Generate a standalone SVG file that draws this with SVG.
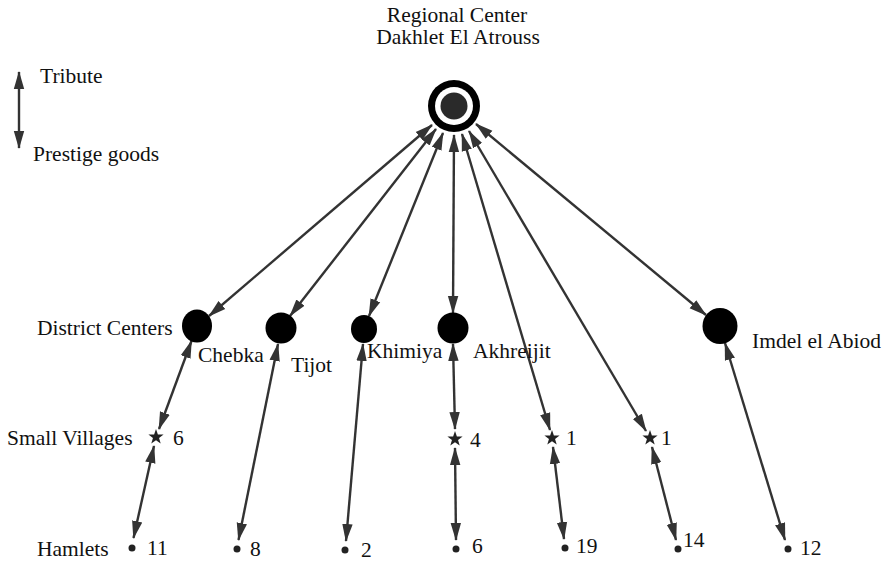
<svg xmlns="http://www.w3.org/2000/svg" width="889" height="561" viewBox="0 0 889 561">
<style>
text{font-family:"Liberation Serif","Times New Roman",serif;font-size:21.5px;fill:#111}
.c{stroke:#333;stroke-width:2.4;fill:none;marker-start:url(#ah);marker-end:url(#ah)}
.dc{fill:#000}
.dot{fill:#222}
.star{fill:#222}
</style>
<defs>
<marker id="ah" viewBox="0 -6 18 12" markerWidth="18" markerHeight="12" refX="17" refY="0" orient="auto-start-reverse" markerUnits="userSpaceOnUse">
<path d="M0,-5.2 L18,0 L0,5.2 Z" fill="#333"/>
</marker>
<path id="st" d="M0,-8 L1.88,-2.59 L7.61,-2.47 L3.04,1 L4.7,6.47 L0,3.2 L-4.7,6.47 L-3.04,1 L-7.61,-2.47 L-1.88,-2.59 Z"/>
</defs>
<rect width="889" height="561" fill="#fff"/>

<g id="legend">
<line class="c" x1="19" y1="72" x2="19" y2="148"/>
<text x="40" y="83">Tribute</text>
<text x="33" y="161">Prestige goods</text>
</g>

<g id="level-labels">
<text x="37" y="335">District Centers</text>
<text x="7" y="445">Small Villages</text>
<text x="37" y="556">Hamlets</text>
</g>

<g id="connectors">
<line class="c" x1="432" y1="125" x2="209" y2="316"/>
<line class="c" x1="436" y1="129" x2="290" y2="316"/>
<line class="c" x1="443" y1="133" x2="369" y2="316"/>
<line class="c" x1="454" y1="135" x2="453" y2="313"/>
<line class="c" x1="462" y1="134" x2="550" y2="430"/>
<line class="c" x1="469" y1="131" x2="646" y2="431"/>
<line class="c" x1="476" y1="124" x2="706" y2="315"/>

<line class="c" x1="191.5" y1="341" x2="159" y2="429"/>
<line class="c" x1="154" y1="446" x2="133.5" y2="538"/>
<line class="c" x1="278" y1="344" x2="238.5" y2="540"/>
<line class="c" x1="363" y1="344" x2="346" y2="541"/>
<line class="c" x1="453" y1="344" x2="455" y2="429"/>
<line class="c" x1="455" y1="448" x2="456" y2="540"/>
<line class="c" x1="553" y1="447" x2="564" y2="539"/>
<line class="c" x1="652" y1="447" x2="676" y2="540"/>
<line class="c" x1="725" y1="343" x2="785" y2="540"/>
</g>

<g id="regional-center">
<circle cx="454" cy="106" r="26" fill="#000"/>
<circle cx="454" cy="106" r="19" fill="#fff"/>
<circle cx="454" cy="106" r="13.5" fill="#2a2a2a"/>
<text x="457" y="22" text-anchor="middle">Regional Center</text>
<text x="458" y="44" text-anchor="middle">Dakhlet El Atrouss</text>
</g>

<g id="chebka">
<ellipse class="dc" cx="197" cy="326" rx="15" ry="16.5"/>
<text x="198" y="362">Chebka</text>
</g>
<g id="tijot">
<ellipse class="dc" cx="281" cy="328" rx="15.5" ry="15.5"/>
<text x="291" y="372">Tijot</text>
</g>
<g id="khimiya">
<ellipse class="dc" cx="364" cy="329" rx="13" ry="14"/>
<text x="367" y="358">Khimiya</text>
</g>
<g id="akhreijit">
<ellipse class="dc" cx="453" cy="328" rx="15.5" ry="15.5"/>
<text x="473" y="358">Akhreijit</text>
</g>
<g id="imdel">
<ellipse class="dc" cx="720" cy="326" rx="17.5" ry="18"/>
<text x="752" y="348">Imdel el Abiod</text>
</g>

<g id="village-6">
<use href="#st" x="156" y="437" class="star"/>
<text x="173" y="445">6</text>
</g>
<g id="village-4">
<use href="#st" x="455" y="439" class="star"/>
<text x="470" y="447">4</text>
</g>
<g id="village-1a">
<use href="#st" x="552" y="438" class="star"/>
<text x="566" y="445">1</text>
</g>
<g id="village-1b">
<use href="#st" x="650" y="438" class="star"/>
<text x="661" y="445">1</text>
</g>

<g id="hamlet-11">
<circle class="dot" cx="132" cy="548" r="3.5"/>
<text x="147" y="555">11</text>
</g>
<g id="hamlet-8">
<circle class="dot" cx="237" cy="549" r="3.5"/>
<text x="250" y="556">8</text>
</g>
<g id="hamlet-2">
<circle class="dot" cx="345" cy="550" r="3.5"/>
<text x="361" y="557">2</text>
</g>
<g id="hamlet-6">
<circle class="dot" cx="456" cy="549" r="3.5"/>
<text x="472" y="553">6</text>
</g>
<g id="hamlet-19">
<circle class="dot" cx="565" cy="548" r="3.5"/>
<text x="576" y="553">19</text>
</g>
<g id="hamlet-14">
<circle class="dot" cx="678" cy="549" r="3.5"/>
<text x="683" y="547">14</text>
</g>
<g id="hamlet-12">
<circle class="dot" cx="788" cy="549" r="3.5"/>
<text x="800" y="555">12</text>
</g>
</svg>
